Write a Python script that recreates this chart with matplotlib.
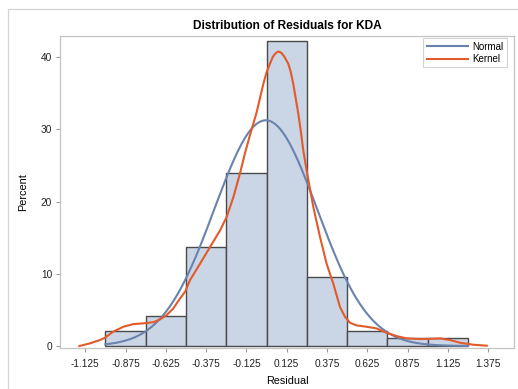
import numpy as np
import matplotlib
matplotlib.use("Agg")
import matplotlib.pyplot as plt
from matplotlib.patches import Rectangle

plt.rcParams["font.family"] = ["Liberation Sans", "DejaVu Sans"]

# histogram: bin midpoints (width 0.25) and percent of observations
bin_mids = [-0.875, -0.625, -0.375, -0.125, 0.125, 0.375, 0.625, 0.875, 1.125]
bin_pct = [2.1, 4.2, 13.7, 24.0, 42.2, 9.5, 2.1, 1.05, 1.05]
bin_width = 0.25

normal_mu = -0.005
normal_sigma = 0.319
normal_range = (-1.0, 1.25)

# kernel density curve (x = residual, y = percent)
kernel_x = [-1.162, -1.096, -1.034, -1.003, -0.951, -0.889, -0.827, -0.765,
            -0.703, -0.661, -0.620, -0.579, -0.537, -0.506, -0.475, -0.413,
            -0.351, -0.289, -0.247, -0.206, -0.165, -0.134, -0.103, -0.061,
            -0.020, 0.000, 0.021, 0.040, 0.058, 0.075, 0.092, 0.110, 0.135,
            0.150, 0.166, 0.197, 0.212, 0.228, 0.249, 0.290, 0.332, 0.373,
            0.414, 0.456, 0.487, 0.518, 0.559, 0.621, 0.683, 0.745, 0.807,
            0.870, 0.952, 1.035, 1.077, 1.139, 1.201, 1.284, 1.367]
kernel_y = [0.0, 0.37, 0.83, 1.15, 2.0, 2.67, 3.04, 3.14,
            3.3, 3.69, 4.29, 5.2, 6.6, 7.5, 9.13, 11.4,
            13.7, 16.0, 17.9, 20.6, 23.9, 26.7, 29.2, 32.4,
            36.3, 37.9, 39.1, 40.1, 40.6, 40.8, 40.6, 40.1, 39.1,
            38.0, 36.3, 32.2, 29.9, 27.1, 24.3, 19.3, 15.1, 11.4,
            8.67, 5.4, 4.05, 3.22, 2.86, 2.67, 2.44, 1.84, 1.38,
            1.06, 0.97, 1.01, 1.06, 0.83, 0.46, 0.18, 0.05]

xtick_vals = [-1.125, -0.875, -0.625, -0.375, -0.125, 0.125, 0.375,
              0.625, 0.875, 1.125, 1.375]
ytick_vals = [0, 10, 20, 30, 40]

fig = plt.figure(figsize=(5.18, 3.89), dpi=100)
fig.patches.append(Rectangle((8 / 518, -0.1), 1.2, 1.1 - 9 / 389,
                             transform=fig.transFigure, fill=False,
                             edgecolor="#D4D4D4", lw=0.9))

ax = fig.add_axes([60 / 518, 41.3 / 389, 454 / 518, 311.4 / 389])

ax.bar(bin_mids, bin_pct, width=bin_width, color="#CAD5E5",
       edgecolor="#4A4A4A", lw=1.0, zorder=2)

xs = np.linspace(normal_range[0], normal_range[1], 300)
pdf = np.exp(-0.5 * ((xs - normal_mu) / normal_sigma) ** 2) / (normal_sigma * np.sqrt(2 * np.pi))
ax.plot(xs, 100 * bin_width * pdf, color="#6A83AE", lw=1.5, label="Normal", zorder=3)
ax.plot(kernel_x, kernel_y, color="#E35A2B", lw=1.5, label="Kernel", zorder=4,
        solid_joinstyle="round")

ax.set_xlim(-1.282, 1.536)
ax.set_ylim(-0.23, 42.9)
ax.set_xticks(xtick_vals)
ax.set_xticklabels([f"{v:.3f}" for v in xtick_vals])
ax.set_yticks(ytick_vals)

for s in ax.spines.values():
    s.set_color("#C4C4C4")
    s.set_linewidth(0.9)
ax.tick_params(axis="both", colors="#9A9A9A", length=3.2, width=0.8,
               labelsize=7.3, labelcolor="#222222")
ax.tick_params(axis="x", pad=5)
ax.tick_params(axis="y", pad=2.5)

ax.set_title("Distribution of Residuals for KDA", fontsize=8.6,
             fontweight="bold", pad=5.5)
ax.set_xlabel("Residual", fontsize=7.8, labelpad=5)
ax.set_ylabel("Percent", fontsize=7.8, labelpad=9)

leg = ax.legend(loc="upper right", bbox_to_anchor=(1 - 5 / 454, 1.0),
                borderaxespad=0.2, fontsize=7, frameon=True, fancybox=False,
                handlelength=4.2, handletextpad=0.5, borderpad=0.35,
                labelspacing=0.25)
leg.get_frame().set_edgecolor("#C8C8C8")
leg.get_frame().set_linewidth(0.8)

fig.savefig("out.png", dpi=100)
